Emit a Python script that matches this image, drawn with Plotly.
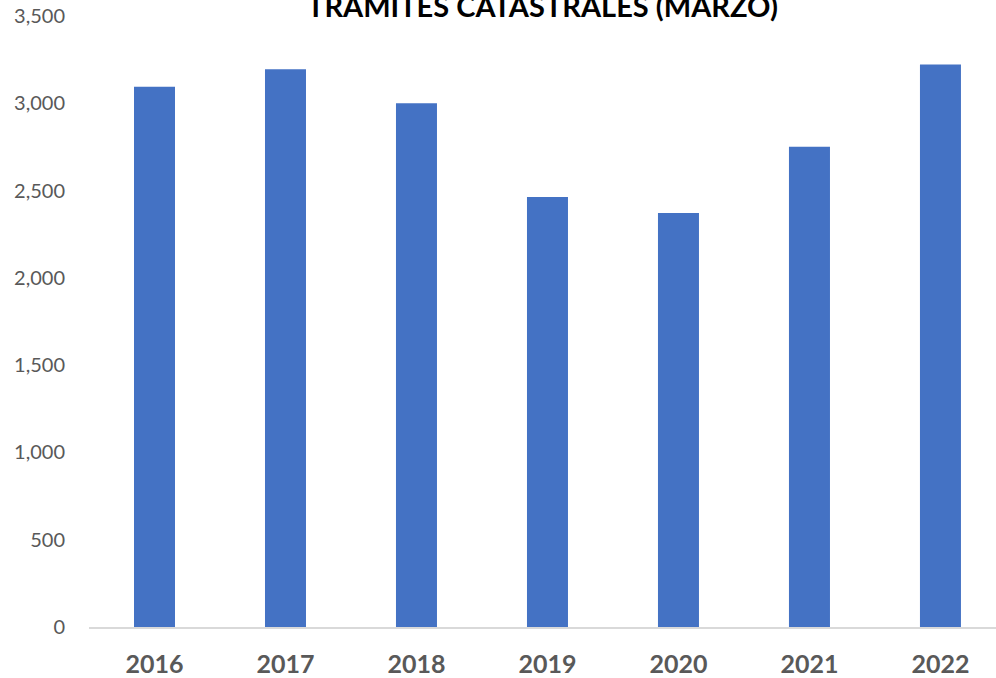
import plotly.graph_objects as go

years = ["2016", "2017", "2018", "2019", "2020", "2021", "2022"]
tramites = [3095, 3195, 3000, 2463, 2371, 2751, 3222]
y_ticks = [0, 500, 1000, 1500, 2000, 2500, 3000, 3500]
title_text = "TRAMITES CATASTRALES (MARZO)"

fig = go.Figure(go.Bar(x=years, y=tramites, marker=dict(color="#4472C4", line=dict(width=0))))

fig.update_layout(
    width=996, height=678,
    margin=dict(l=89, r=0, t=16, b=51),
    paper_bgcolor="white", plot_bgcolor="white",
    bargap=0.687,
    showlegend=False,
    xaxis=dict(
        type="category", range=[-0.5, 6.424],
        showline=True, linecolor="#D9D9D9", linewidth=1.5,
        showgrid=False, ticks="",
        tickfont=dict(family="Lato", size=25, color="#595959", weight="bold"),
        ticklabelstandoff=14,
    ),
    yaxis=dict(
        range=[0, 3500], tickvals=y_ticks, tickformat=",",
        showgrid=False, zeroline=False, showline=False, ticks="",
        tickfont=dict(family="Lato", size=20, color="#595959"),
        ticklabelstandoff=23,
    ),
    annotations=[dict(
        text="<b>" + title_text + "</b>", xref="paper", yref="paper",
        x=0.5, y=1.0, xanchor="center", yanchor="middle", showarrow=False,
        yshift=11,
        font=dict(family="Lato", size=29, color="black"),
    )],
)

fig.write_html(
    "out.html",
    config={"displayModeBar": False},
    post_script="document.body.style.margin='0px';document.body.style.overflow='hidden';",
)
